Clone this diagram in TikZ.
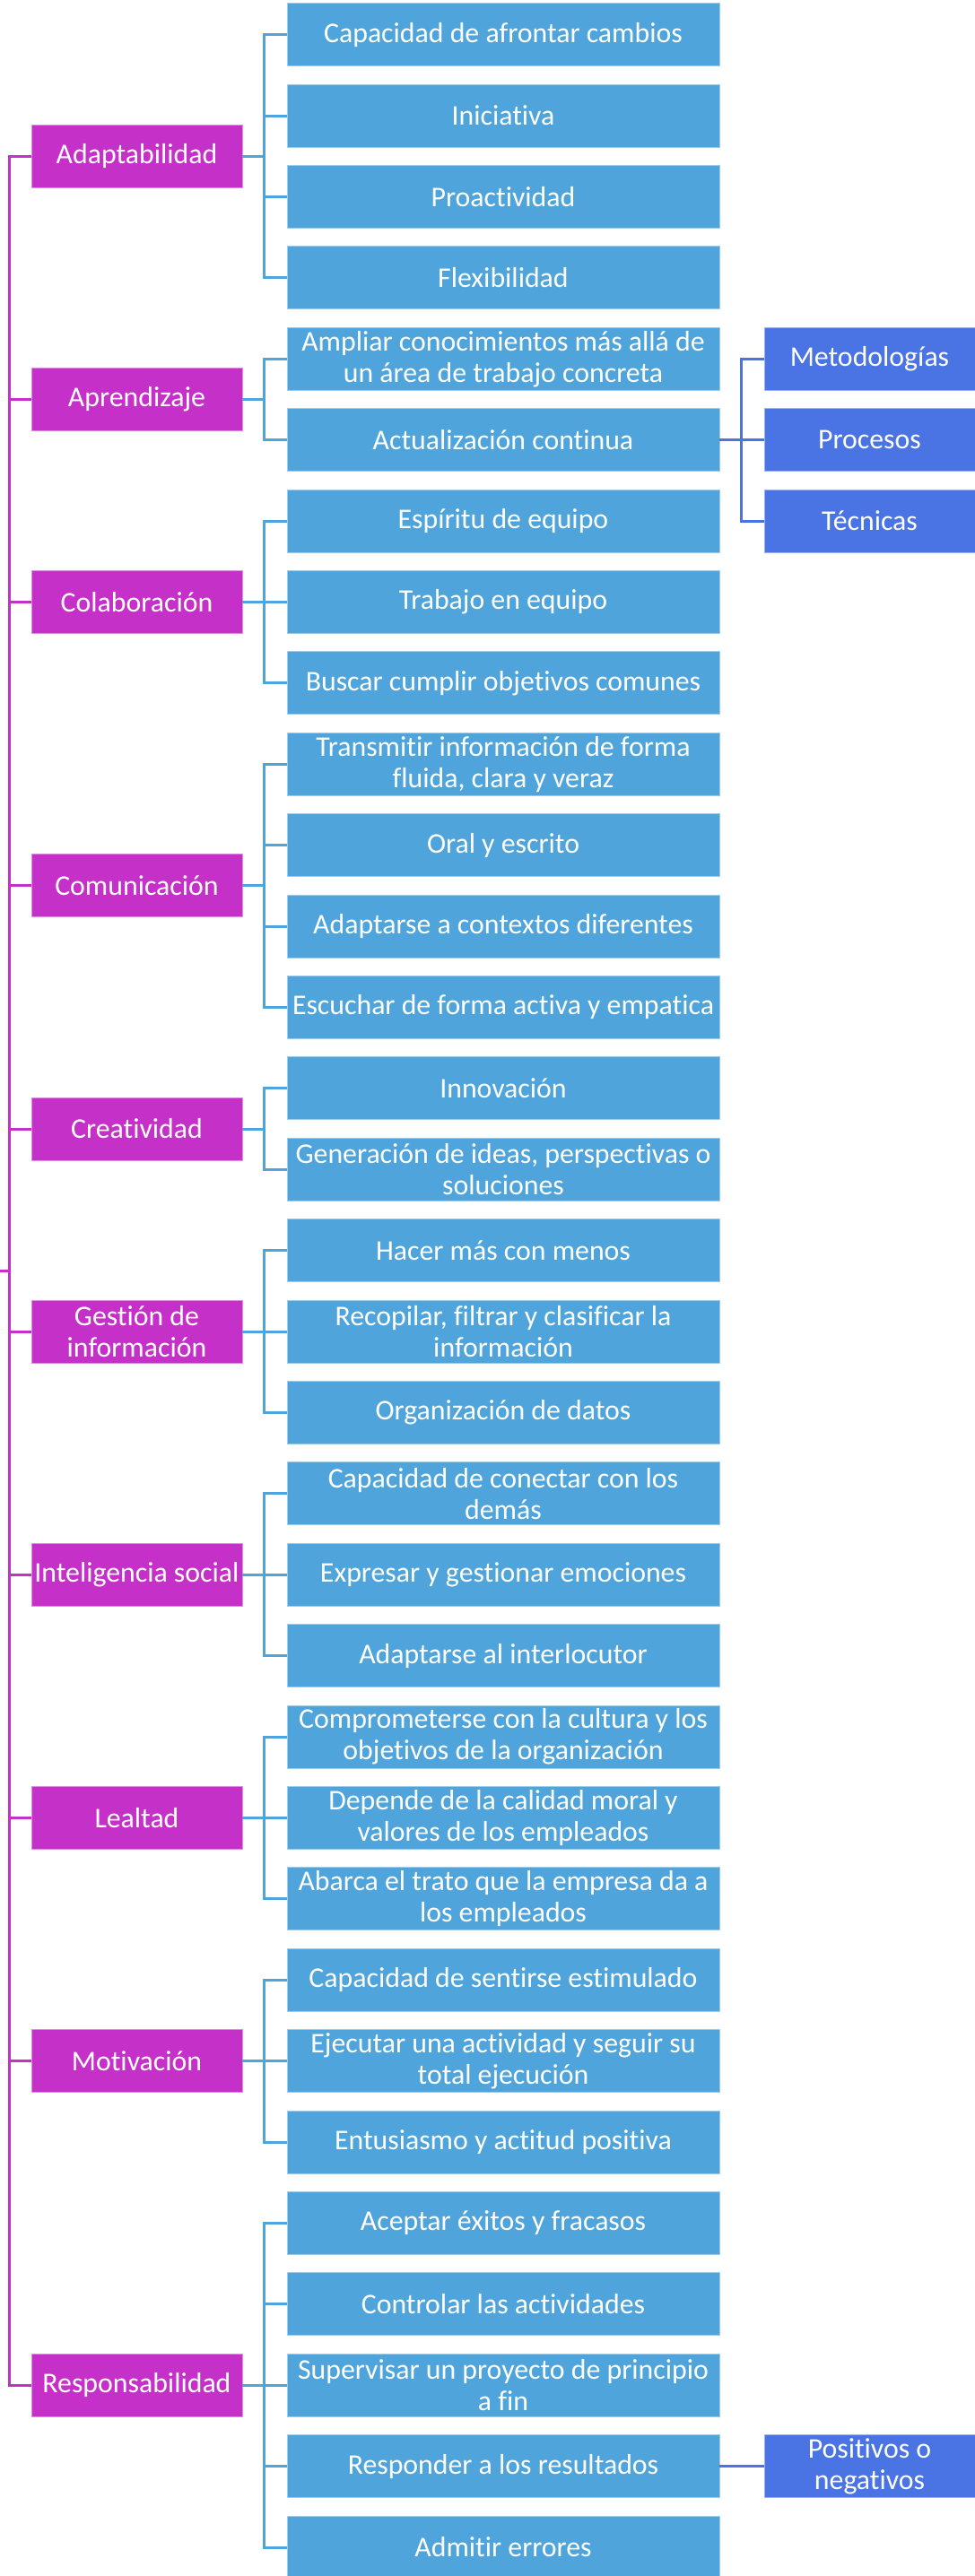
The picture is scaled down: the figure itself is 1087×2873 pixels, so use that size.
\documentclass[tikz,border=0pt]{standalone}
\usepackage{fontspec}
\setmainfont{Carlito}[Ligatures=NoCommon]
\definecolor{catmag}{RGB}{197,48,200}
\definecolor{itemblue}{RGB}{79,165,219}
\definecolor{subblue}{RGB}{74,116,228}
\tikzset{
  boxtext/.style={text=white, align=center, inner sep=0pt, font=\fontsize{31.8}{35}\selectfont},
  catbox/.style={boxtext, fill=catmag, draw=catmag!55!white, line width=0.8pt, minimum width=235pt, minimum height=70pt},
  itembox/.style={boxtext, fill=itemblue, draw=itemblue!55!white, line width=0.8pt, minimum width=482pt, minimum height=70pt},
  subbox/.style={boxtext, fill=subblue, draw=subblue!55!white, line width=0.8pt, minimum width=235pt, minimum height=70pt},
  rootlink/.style={draw=catmag, line width=3pt},
  catlink/.style={draw=itemblue, line width=3pt},
  sublink/.style={draw=subblue, line width=3pt}
}
\begin{document}
\begin{tikzpicture}[x=1pt, y=-1pt]
    \useasboundingbox (0,0) rectangle (1087,2873);
    % items, one row each
    \foreach \txt [count=\i] in {
        {Capacidad de afrontar cambios}, {Iniciativa}, {Proactividad}, {Flexibilidad},
        {Ampliar conocimientos más allá de\\un área de trabajo concreta}, {Actualización continua},
        {Espíritu de equipo}, {Trabajo en equipo}, {Buscar cumplir objetivos comunes},
        {Transmitir información de forma\\fluida, clara y veraz}, {Oral y escrito},
        {Adaptarse a contextos diferentes}, {Escuchar de forma activa y empatica},
        {Innovación}, {Generación de ideas, perspectivas o\\soluciones},
        {Hacer más con menos}, {Recopilar, filtrar y clasificar la\\información}, {Organización de datos},
        {Capacidad de conectar con los\\demás}, {Expresar y gestionar emociones}, {Adaptarse al interlocutor},
        {Comprometerse con la cultura y los\\objetivos de la organización},
        {Depende de la calidad moral y\\valores de los empleados},
        {Abarca el trato que la empresa da a\\los empleados},
        {Capacidad de sentirse estimulado}, {Ejecutar una actividad y seguir su\\total ejecución},
        {Entusiasmo y actitud positiva},
        {Aceptar éxitos y fracasos}, {Controlar las actividades},
        {Supervisar un proyecto de principio\\a fin}, {Responder a los resultados}, {Admitir errores}} {
        \node[itembox] (c\i) at (561, {38.6+90.4*(\i-1)}) {\txt};
    }
    % categories, centred on their items
    \foreach \txt/\row [count=\i] in {
        {Adaptabilidad}/1.5, {Aprendizaje}/4.5, {Colaboración}/7, {Comunicación}/10.5,
        {Creatividad}/13.5, {Gestión de\\información}/16, {Inteligencia social}/19,
        {Lealtad}/22, {Motivación}/25, {Responsabilidad}/29} {
        \node[catbox] (p\i) at (152.5, {38.6+90.4*\row}) {\txt};
    }
    % third level
    \node[subbox] (r1) at (969.5, {38.6+90.4*4}) {Metodologías};
    \node[subbox] (r2) at (969.5, {38.6+90.4*5}) {Procesos};
    \node[subbox] (r3) at (969.5, {38.6+90.4*6}) {Técnicas};
    \node[subbox] (r4) at (969.5, {38.6+90.4*30}) {Positivos o\\negativos};

    % trunk from the left edge
    \coordinate (root) at (0,1417);
    \foreach \p in {1,...,10} {
        \draw[rootlink] (root) -- ++(10,0) |- (p\p.west);
    }
    % category to items
    \foreach \p/\a/\b in {1/1/4, 2/5/6, 3/7/9, 4/10/13, 5/14/15, 6/16/18, 7/19/21, 8/22/24, 9/25/27, 10/28/32} {
        \foreach \c in {\a,...,\b} {
            \draw[catlink] (p\p.east) -| ([xshift=-25pt]c\c.west) -- (c\c.west);
        }
    }
    % item to sub items
    \foreach \r in {1,2,3} {
        \draw[sublink] (c6.east) -| ([xshift=-25pt]r\r.west) -- (r\r.west);
    }
    \draw[sublink] (c31.east) -- (r4.west);
\end{tikzpicture}
\end{document}
